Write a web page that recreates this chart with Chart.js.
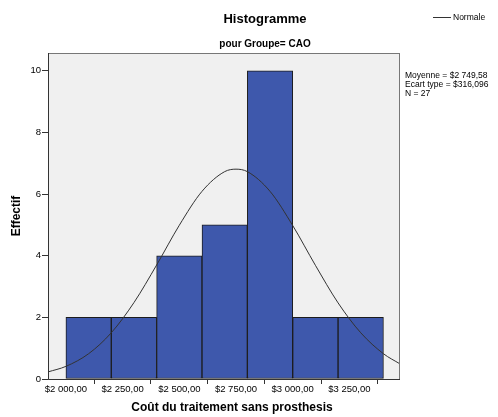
<!DOCTYPE html>
<html>
<head>
<meta charset="utf-8">
<script src="https://cdn.jsdelivr.net/npm/chart.js@4.4.0/dist/chart.umd.min.js"></script>
<style>
  html, body { margin: 0; padding: 0; background: #fff; }
  #wrap { width: 498px; height: 417px; }
</style>
</head>
<body>
<div id="wrap"><canvas id="histo" width="498" height="417"></canvas></div>
<script>
// histogram bins (centres, width 200) and counts
const binCenters = [2100, 2300, 2500, 2700, 2900, 3100, 3300];
const counts = [2, 2, 4, 5, 10, 2, 2];

// normal curve
const curveX = [1921, 2000, 2100, 2200, 2300, 2400, 2500, 2600, 2700, 2750, 2800, 2900, 3000, 3100, 3200, 3300, 3400, 3473];
const curveY = [0.23, 0.41, 0.82, 1.50, 2.48, 3.70, 4.99, 6.09, 6.73, 6.81, 6.73, 6.09, 4.98, 3.69, 2.47, 1.50, 0.82, 0.49];

const xTicks = [2000, 2250, 2500, 2750, 3000, 3250];
const yTicks = [0, 2, 4, 6, 8, 10];

const statLines = ['Moyenne = $2 749,58', 'Ecart type = $316,096', 'N = 27'];

const FONT = '"Liberation Sans", Arial, sans-serif';

function money(v) {
    const s = Math.round(v).toString().replace(/\B(?=(\d{3})+(?!\d))/g, ' ');
    return '$' + s + ',00';
}

const decor = {
    id: 'decor',
    beforeDatasetsDraw(chart) {
        const { ctx, chartArea: a } = chart;
        ctx.save();
        ctx.fillStyle = '#f0f0f0';
        ctx.fillRect(a.left, a.top, a.right - a.left, a.bottom - a.top);
        ctx.restore();
    },
    afterDraw(chart) {
        const { ctx, chartArea: a } = chart;
        ctx.save();
        // frame
        ctx.strokeStyle = '#777';
        ctx.lineWidth = 1;
        ctx.strokeRect(a.left + 0.5, a.top + 0.5, a.right - a.left - 1, a.bottom - a.top);
        ctx.strokeStyle = '#333';
        ctx.beginPath();
        ctx.moveTo(a.left + 0.5, a.top);
        ctx.lineTo(a.left + 0.5, a.bottom + 0.5);
        ctx.lineTo(a.right, a.bottom + 0.5);
        ctx.stroke();

        ctx.fillStyle = '#000';
        ctx.textAlign = 'center';
        ctx.textBaseline = 'middle';
        ctx.font = 'bold 13px ' + FONT;
        ctx.fillText('Histogramme', 265, 19);
        ctx.font = 'bold 10px ' + FONT;
        ctx.fillText('pour Groupe= CAO', 265, 44);

        ctx.font = 'bold 12px ' + FONT;
        ctx.fillText('Coût du traitement sans prosthesis', 232, 408);
        ctx.save();
        ctx.translate(17, 216);
        ctx.rotate(-Math.PI / 2);
        ctx.fillText('Effectif', 0, 0);
        ctx.restore();

        // legend
        ctx.strokeStyle = '#333';
        ctx.beginPath();
        ctx.moveTo(433, 17.5);
        ctx.lineTo(451, 17.5);
        ctx.stroke();
        ctx.textAlign = 'left';
        ctx.font = '8.5px ' + FONT;
        ctx.fillText('Normale', 453, 17.5);

        statLines.forEach((t, i) => ctx.fillText(t, 405, 76 + i * 9));
        ctx.restore();
    }
};

new Chart(document.getElementById('histo'), {
    type: 'bar',
    data: {
        datasets: [
            {
                type: 'line',
                data: curveX.map((x, i) => ({ x: x, y: curveY[i] })),
                borderColor: '#333',
                borderWidth: 1,
                pointRadius: 0,
                cubicInterpolationMode: 'monotone',
                fill: false,
                order: 0
            },
            {
                data: binCenters.map((x, i) => ({ x: x, y: counts[i] })),
                backgroundColor: '#3e58ac',
                borderColor: '#1c1c1c',
                borderWidth: 1,
                borderSkipped: false,
                barPercentage: 1,
                categoryPercentage: 1,
                grouped: false,
                order: 1
            }
        ]
    },
    options: {
        responsive: false,
        animation: false,
        events: [],
        layout: { padding: { left: 20, top: 53, right: 98, bottom: 0 } },
        plugins: { legend: { display: false }, tooltip: { enabled: false } },
        scales: {
            x: {
                type: 'linear',
                min: 1921,
                max: 3473,
                offset: false,
                afterBuildTicks: s => { s.ticks = xTicks.map(v => ({ value: v })); },
                afterFit: s => { s.height = 38; },
                grid: { drawOnChartArea: false, tickLength: 5, color: '#333' },
                border: { display: false },
                ticks: {
                    autoSkip: false, maxRotation: 0, padding: 0,
                    color: '#000', font: { family: FONT, size: 9.5 },
                    callback: v => money(v)
                }
            },
            y: {
                min: 0,
                max: 10.58,
                afterBuildTicks: s => { s.ticks = yTicks.map(v => ({ value: v })); },
                afterFit: s => { s.width = 28; },
                grid: { drawOnChartArea: false, tickLength: 6, color: '#333' },
                border: { display: false },
                ticks: { padding: 1, color: '#000', font: { family: FONT, size: 9.5 } }
            }
        }
    },
    plugins: [decor]
});
</script>
</body>
</html>
